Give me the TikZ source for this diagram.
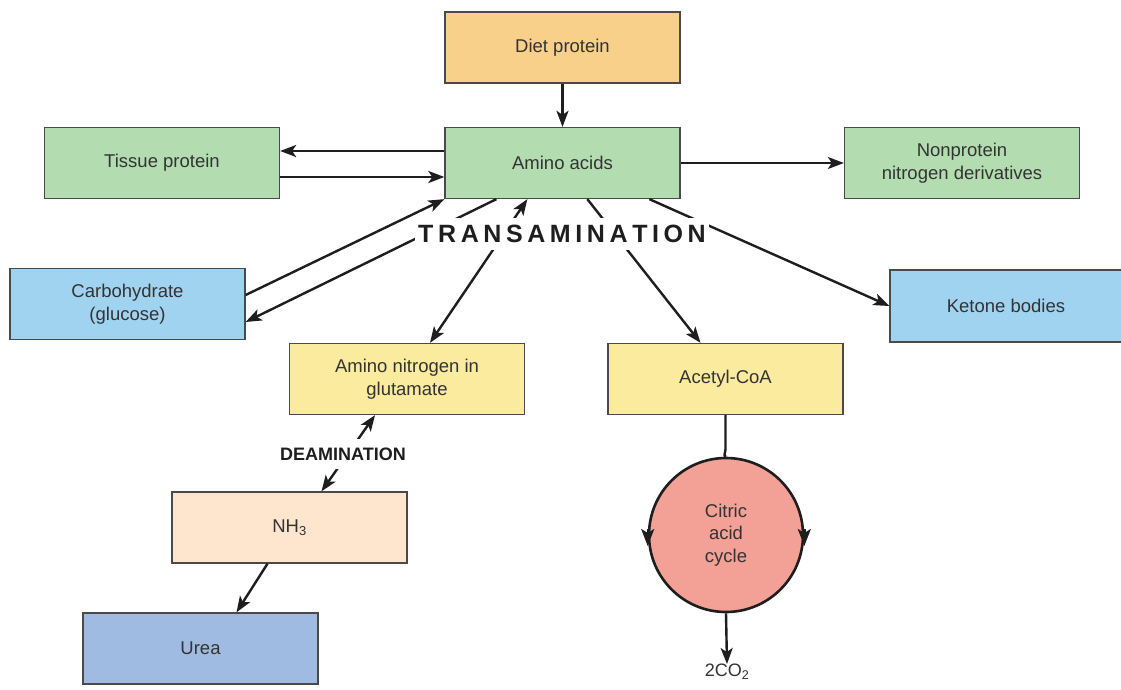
\documentclass[tikz,border=0pt]{standalone}
\usepackage{fontspec}
\setmainfont{Liberation Sans}
\usetikzlibrary{arrows.meta}
\definecolor{dietc}{HTML}{F9D08A}
\definecolor{greenc}{HTML}{B3DDB1}
\definecolor{bluec}{HTML}{A0D3F0}
\definecolor{yelc}{HTML}{FBEB9F}
\definecolor{peachc}{HTML}{FDE5CE}
\definecolor{ureac}{HTML}{A0BBE2}
\definecolor{circc}{HTML}{F3A097}
\definecolor{boxline}{HTML}{4A4A4A}
\definecolor{arrc}{HTML}{1E1E1E}
\definecolor{txt}{HTML}{333333}
\begin{document}
\begin{tikzpicture}[x=1pt,y=-1pt,
  >={Stealth[length=16pt,width=12pt,inset=4pt]},
  box/.style={draw=boxline, line width=1.3pt, minimum width=235pt, minimum height=71pt,
    inner sep=0pt, text=txt, font=\fontsize{18.5}{23.5}\selectfont, align=center},
  arr/.style={draw=arrc, line width=2.4pt, ->},
  lbl/.style={fill=white, text=arrc, font=\bfseries, inner xsep=3pt}]
\fill[white] (0,0) rectangle (1121,690);
\useasboundingbox (0,0) rectangle (1121,690);

\node[box, fill=dietc] (diet) at (562.5,47.5) {Diet protein};
\node[box, fill=greenc] (amino) at (562.5,163) {Amino acids};
\node[box, fill=greenc] (tissue) at (162,163) {Tissue protein};
\node[box, fill=greenc] (nonp) at (962,163) {Nonprotein\\nitrogen derivatives};
\node[box, fill=bluec] (carb) at (127.5,304) {Carbohydrate\\(glucose)};
\node[box, fill=bluec, minimum width=232pt, minimum height=72pt] (ket) at (1006,306) {Ketone bodies};
\node[box, fill=yelc] (amn) at (407,379) {Amino nitrogen in\\glutamate};
\node[box, fill=yelc] (acet) at (725.5,379) {Acetyl-CoA};
\node[box, fill=peachc] (nh3) at (289.5,527.5) {NH\textsubscript{3}};
\node[box, fill=ureac] (urea) at (200.5,648.5) {Urea};
\node[circle, draw=arrc, line width=2.6pt, fill=circc, minimum size=154pt, inner sep=0pt,
  text=txt, align=center, font=\fontsize{18.5}{22.5}\selectfont] (cyc) at (726,535) {Citric\\acid\\cycle};
\node[inner sep=0pt, text=txt, font=\fontsize{18}{20}\selectfont, anchor=north] (co2) at (727,664) {2CO\textsubscript{2}};

\draw[arr] (diet) -- (amino);
\draw[arr] ([yshift=12pt]amino.west) -- ([yshift=12pt]tissue.east);
\draw[arr] ([yshift=-14pt]tissue.east) -- ([yshift=-14pt]amino.west);
\draw[arr] (amino) -- (nonp);
\draw[arr] ([yshift=9pt]carb.east) -- (amino.south west);
\draw[arr] ([xshift=52pt]amino.south west) -- ([yshift=-18pt]carb.east);
\draw[arr, <->] ([xshift=23pt]amn.north) -- ([xshift=83pt]amino.south west);
\draw[arr] ([xshift=143pt]amino.south west) -- ([xshift=-25pt]acet.north);
\draw[arr] ([xshift=205pt]amino.south west) -- (ket.west);
\draw[arr, <->] ([xshift=32pt]nh3.north) -- ([xshift=-32pt]amn.south);
\draw[arr] ([xshift=-22pt]nh3.south) -- ([xshift=36pt]urea.north);
\draw[draw=arrc, line width=2.4pt] (acet.south) -- ++(0,34) to[out=-90,in=175] (cyc.north);
\draw[arr] (cyc.south) -- (co2.north);
\draw[arr, >={Stealth[length=17pt,width=13pt,inset=4pt]}] ([yshift=6pt]cyc.west) -- ([yshift=-11pt]cyc.west);
\draw[arr, >={Stealth[length=17pt,width=13pt,inset=4pt]}] ([yshift=6pt]cyc.east) -- ([yshift=-11pt]cyc.east);

\def\ls{\kern4.6pt}
\node[lbl, font=\bfseries\fontsize{25}{25}\selectfont, inner ysep=7.5pt] (trans) at (562,234)
  {T\ls R\ls A\ls N\ls S\ls A\ls M\ls I\ls N\ls A\ls T\ls I\ls O\ls N};
\node[lbl, font=\bfseries\fontsize{18}{18}\selectfont, inner ysep=9pt] (deam) at (343,454) {DEAMINATION};
\end{tikzpicture}
\end{document}
